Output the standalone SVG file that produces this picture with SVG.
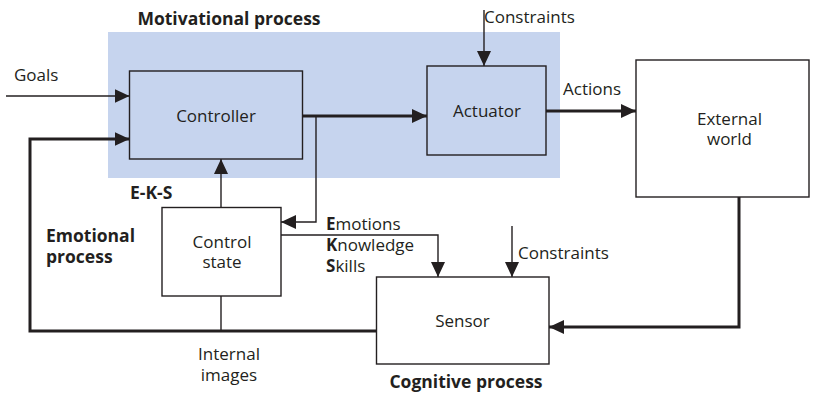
<svg xmlns="http://www.w3.org/2000/svg" width="816" height="395" viewBox="0 0 816 395">
  <defs>
    <marker id="arrow" markerUnits="userSpaceOnUse" markerWidth="15" markerHeight="14" refX="15" refY="7" orient="auto">
      <path d="M0,0 L15,7 L0,14 Z" fill="#231f20"/>
    </marker>
    <style>
      text { font-family: "Open Sans", "Liberation Sans", sans-serif; font-size: 17px; fill: #231f20; }
      .bold { font-weight: bold; font-size: 17.5px; }
      tspan.b { font-weight: bold; }
      .mid { text-anchor: middle; }
      .box { fill: #ffffff; stroke: #231f20; stroke-width: 1.4; }
      .boxblue { fill: #c6d4ee; stroke: #231f20; stroke-width: 1.4; }
      .thin { fill: none; stroke: #231f20; stroke-width: 1.4; }
      .thick { fill: none; stroke: #231f20; stroke-width: 3; }
    </style>
  </defs>
  <rect width="816" height="395" fill="#ffffff"/>

  <!-- motivational process region -->
  <g id="motivational-region">
    <rect x="108" y="32" width="452" height="146" fill="#c6d4ee"/>
    <text class="bold mid" x="229" y="25">Motivational process</text>
  </g>

  <!-- connectors -->
  <g id="connectors">
    <!-- goals into controller -->
    <path class="thin" d="M6,96 H129.5" marker-end="url(#arrow)"/>
    <!-- emotional feedback loop -->
    <path class="thick" d="M376,331 H30 V139 H129.5" marker-end="url(#arrow)"/>
    <!-- controller to actuator -->
    <path class="thick" d="M302.5,116 H427" marker-end="url(#arrow)"/>
    <!-- controller branch to control state -->
    <path class="thin" d="M316,116 V222 H281" marker-end="url(#arrow)"/>
    <!-- control state up to controller -->
    <path class="thin" d="M221,207 V159" marker-end="url(#arrow)"/>
    <!-- control state down to internal images line -->
    <path class="thin" d="M221,296 V331"/>
    <!-- E-K-S to sensor -->
    <path class="thin" d="M281,235 H438 V277" marker-end="url(#arrow)"/>
    <!-- constraints to sensor -->
    <path class="thin" d="M512,226 V277" marker-end="url(#arrow)"/>
    <!-- constraints to actuator -->
    <path class="thin" d="M484,10 V66" marker-end="url(#arrow)"/>
    <!-- actions -->
    <path class="thick" d="M546,111 H636" marker-end="url(#arrow)"/>
    <!-- external world to sensor -->
    <path class="thick" d="M739,197 V327 H549" marker-end="url(#arrow)"/>
  </g>

  <g id="controller">
    <rect class="boxblue" x="129.5" y="71" width="173" height="88"/>
    <text class="mid" x="216" y="122">Controller</text>
  </g>

  <g id="actuator">
    <rect class="boxblue" x="427" y="66" width="119" height="89"/>
    <text class="mid" x="487" y="117">Actuator</text>
  </g>

  <g id="external-world">
    <rect class="box" x="636" y="60" width="173" height="137"/>
    <text class="mid" x="729.5" y="125">External<tspan x="729.5" dy="20">world</tspan></text>
  </g>

  <g id="control-state">
    <rect class="box" x="162" y="207.5" width="119" height="88.5"/>
    <text class="mid" x="222" y="248">Control<tspan x="222" dy="20">state</tspan></text>
  </g>

  <g id="sensor">
    <rect class="box" x="376.5" y="277" width="172.5" height="87"/>
    <text class="mid" x="462.5" y="327">Sensor</text>
    <text class="bold mid" x="466" y="388">Cognitive process</text>
  </g>

  <!-- labels -->
  <g id="labels">
    <text x="14" y="81">Goals</text>
    <text x="484" y="23">Constraints</text>
    <text x="563" y="95">Actions</text>
    <text class="bold" x="130" y="199">E-K-S</text>
    <text class="bold" x="46" y="242">Emotional<tspan x="46" dy="21">process</tspan></text>
    <text x="326" y="230"><tspan class="b">E</tspan>motions<tspan x="326" dy="21" class="b">K</tspan>nowledge<tspan x="326" dy="21" class="b">S</tspan>kills</text>
    <text x="518" y="259">Constraints</text>
    <text class="mid" x="229" y="360">Internal<tspan x="229" dy="21">images</tspan></text>
  </g>
</svg>
